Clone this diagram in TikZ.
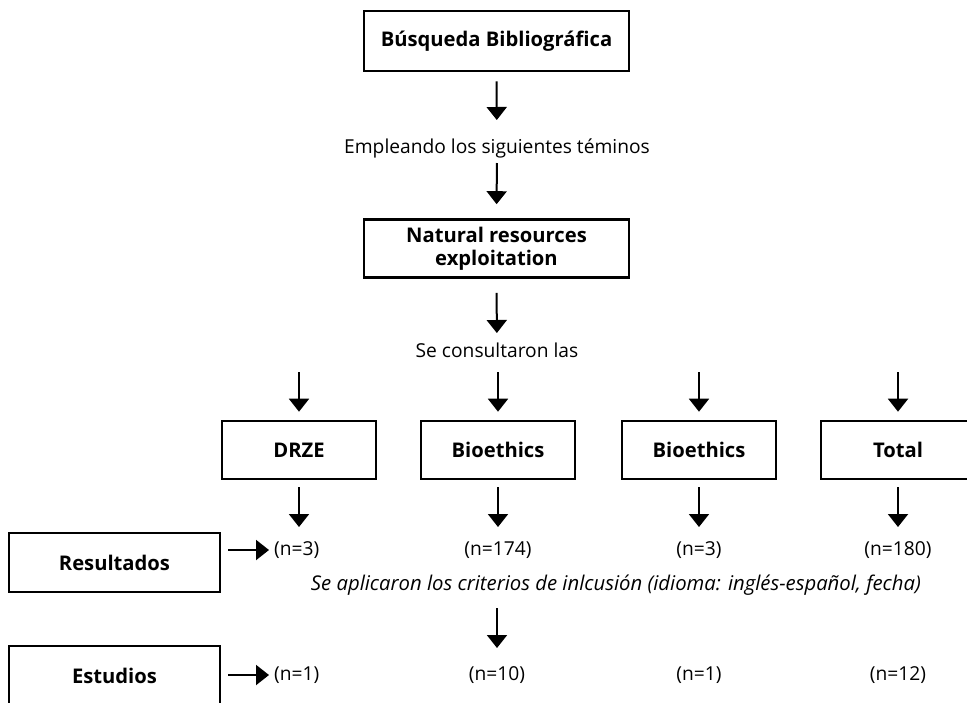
\documentclass[tikz,border=0pt]{standalone}
\usepackage{fontspec}
\setmainfont{Open Sans}
\usetikzlibrary{arrows.meta}
\tikzset{
  box/.style={draw=black, line width=2.6pt, fill=white, font=\fontsize{20.2}{23}\selectfont\bfseries, align=center, inner sep=0pt},
  txt/.style={font=\fontsize{19.2}{22}\selectfont, inner sep=0pt},
  itxt/.style={font=\fontsize{20.3}{22}\selectfont\itshape, inner sep=0pt},
  arr/.style={line width=2pt, -{Triangle[width=20pt,length=13pt]}}
}
\begin{document}
\begin{tikzpicture}[x=1pt,y=-1pt]
\clip (0,0) rectangle (967,702);
\fill[white] (0,0) rectangle (967,702);
% top
\node[box, minimum width=265pt, minimum height=60pt] (b1) at (496.5,41) {Búsqueda Bibliográfica};
\node[txt] (t1) at (497,148) {Empleando los siguientes téminos};
\node[box, minimum width=265pt, minimum height=58pt] (b2) at (496.5,248.5) {Natural resources\\exploitation};
\node[txt] (t2) at (497,350) {Se consultaron las};
% databases
\node[box, minimum width=154pt, minimum height=58pt] (d1) at (299,450) {DRZE};
\node[box, minimum width=154pt, minimum height=58pt] (d2) at (498,450) {Bioethics};
\node[box, minimum width=154pt, minimum height=58pt] (d3) at (699,450) {Bioethics};
\node[box, minimum width=154pt, minimum height=58pt] (d4) at (898,450) {Total};
% results
\node[box, minimum width=211pt, minimum height=59pt] (res) at (114.5,562.5) {Resultados};
\node[txt, anchor=west] (r1) at (274,550) {(n=3)};
\node[txt] (r2) at (498,550) {(n=174)};
\node[txt] (r3) at (699,550) {(n=3)};
\node[txt] (r4) at (898,550) {(n=180)};
\node[itxt] (crit) at (616,585) {Se aplicaron los criterios de inlcusión (idioma: inglés-español, fecha)};
\node[box, minimum width=211pt, minimum height=59pt] (est) at (114.5,675.5) {Estudios};
\node[txt, anchor=west] (s1) at (274,675) {(n=1)};
\node[txt] (s2) at (497,675) {(n=10)};
\node[txt] (s3) at (699,675) {(n=1)};
\node[txt] (s4) at (898,675) {(n=12)};
% arrows
\draw[arr, shorten <=9pt, shorten >=28pt] (b1.south) -- (t1.center);
\draw[arr, shorten <=15pt, shorten >=14pt] (t1.center) -- (b2.north);
\draw[arr, shorten <=14pt, shorten >=17pt] (b2.south) -- (t2.center);
\foreach \d in {d1,d2,d3,d4}{
  \draw[arr, shorten <=22pt, shorten >=8pt] (\d.north |- t2.center) -- (\d.north);
}
\draw[arr, shorten <=7pt, shorten >=23pt] (d1.south) -- (d1.south |- r1.center);
\draw[arr, shorten <=7pt, shorten >=23pt] (d2.south) -- (r2.center);
\draw[arr, shorten <=7pt, shorten >=23pt] (d3.south) -- (r3.center);
\draw[arr, shorten <=7pt, shorten >=23pt] (d4.south) -- (r4.center);
\draw[arr, shorten <=23pt, shorten >=27pt] (s2 |- crit.center) -- (s2.center);
\draw[arr, shorten <=7pt, shorten >=5pt] (r1.west -| res.east) -- (r1.west);
\draw[arr, shorten <=7pt, shorten >=5pt] (s1.west -| est.east) -- (s1.west);
\end{tikzpicture}
\end{document}
